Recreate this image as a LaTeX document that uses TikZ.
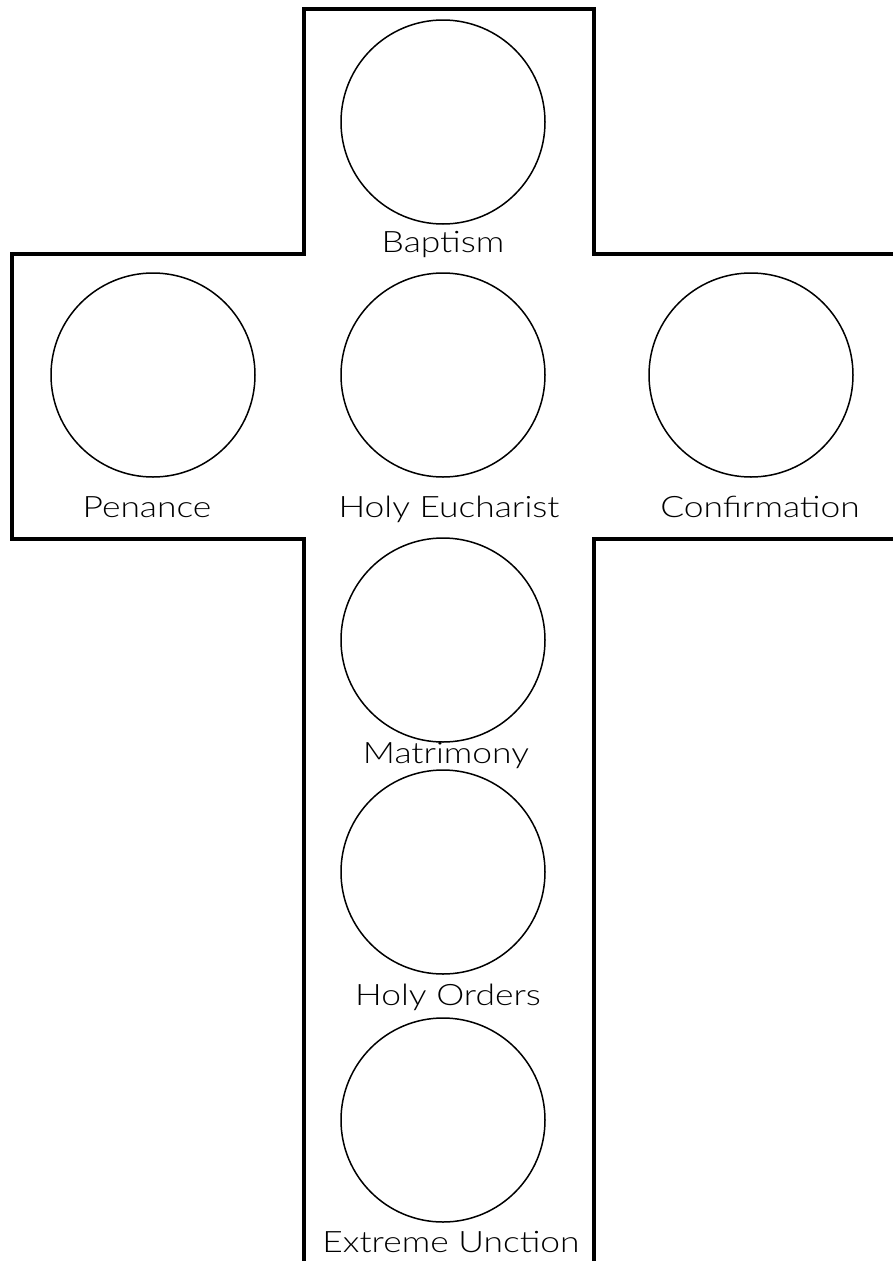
\documentclass[tikz,border=0pt]{standalone}
\usepackage{fontspec}
\setmainfont{Lato Light}
\newcommand{\wide}[1]{\scalebox{1.2}[1]{#1}}
\begin{document}
\begin{tikzpicture}[x=1pt,y=-1pt,
  sac/.style={draw=black,line width=1.5pt,circle,minimum size=204pt,inner sep=0pt},
  lbl/.style={anchor=base,inner sep=0pt,font=\fontsize{29.5}{32}\selectfont},
  crossline/.style={draw=black,line width=4pt,line join=miter}]
\fill[white] (0,0) rectangle (893,1261);
\useasboundingbox (0,0) rectangle (893,1261);
% cross outline
\coordinate (bl) at (304,1261);
\coordinate (la) at (304,539);
\coordinate (lb) at (12,539);
\coordinate (lc) at (12,254);
\coordinate (ld) at (304,254);
\coordinate (tl) at (304,9);
\coordinate (tr) at (594,9);
\coordinate (rd) at (594,254);
\coordinate (re) at (893,254);
\coordinate (rf) at (893,539);
\coordinate (rg) at (594,539);
\coordinate (br) at (594,1261);
\draw[crossline] (bl) -- (la) -- (lb) -- (lc) -- (ld) -- (tl) -- (tr) -- (rd) -- (re);
\draw[crossline] (rf) -- (rg) -- (br);
% circles
\node[sac] (bap) at (443,122) {};
\node[sac] (pen) at (153,375) {};
\node[sac] (euc) at (443,375) {};
\node[sac] (con) at (751,375) {};
\node[sac] (mat) at (443,640) {};
\node[sac] (ord) at (443,872) {};
\node[sac] (ext) at (443,1120) {};
% labels
\node[lbl] (tbap) at (443,252) {\wide{Baptism}};
\node[lbl] (tpen) at (147,517) {\wide{Penance}};
\node[lbl] (teuc) at (449,517) {\wide{Holy Eucharist}};
\node[lbl] (tcon) at (760,517) {\wide{Confirmation}};
\node[lbl] (tmat) at (446,763) {\wide{Matrimony}};
\node[lbl] (tord) at (448,1005) {\wide{Holy Orders}};
\node[lbl] (text) at (451,1252) {\wide{Extreme Unction}};
\end{tikzpicture}
\end{document}
